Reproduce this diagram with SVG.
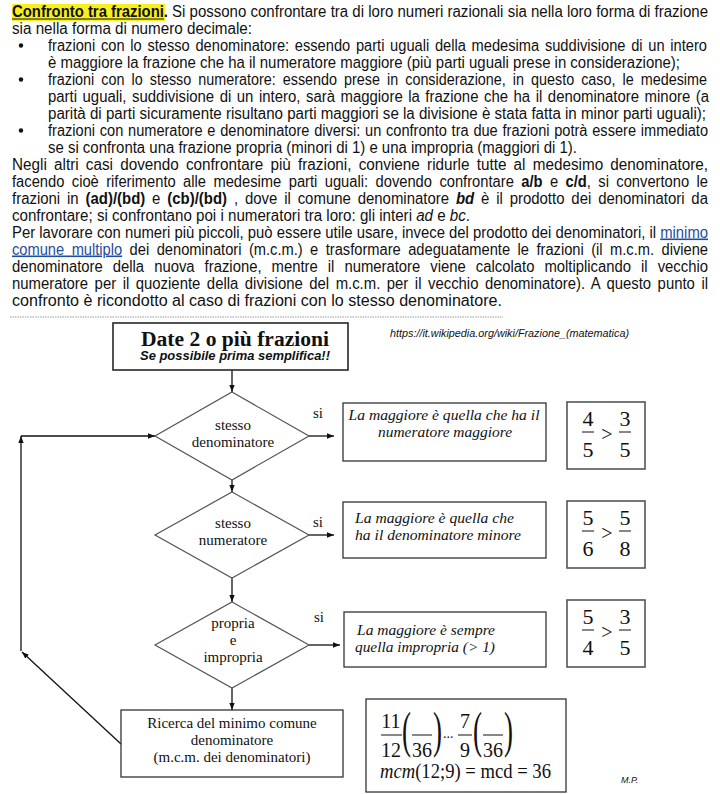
<svg xmlns="http://www.w3.org/2000/svg" width="720" height="794" viewBox="0 0 720 794">
<defs>
<marker id="ah" viewBox="0 0 10 10" refX="10" refY="5" markerWidth="7" markerHeight="7" orient="auto" markerUnits="userSpaceOnUse"><path d="M0,1.2 L10,5 L0,8.8 z" fill="#111"/></marker>
<style>
.p{font-family:"Liberation Sans",Arial,sans-serif;font-size:16px;fill:#111}
.b{font-weight:bold}
.i{font-style:italic}
.lnk{fill:#1f4e9c;text-decoration:underline}
.t{font-family:"Liberation Serif","Times New Roman",serif;fill:#111}
.ti{font-family:"Liberation Serif","Times New Roman",serif;font-style:italic;fill:#111}
.box{fill:#fff;stroke:#333;stroke-width:1.3}
.sbox{fill:#fff;stroke:#333;stroke-width:1.7}
.fbox{fill:#fff;stroke:#555;stroke-width:1.6}
.dia{fill:#fff;stroke:#555;stroke-width:1.2}
.ln{fill:none;stroke:#111;stroke-width:1.3}
.bar{stroke:#111;stroke-width:1}
.bul{fill:#111}
</style>
</defs>
<rect width="720" height="794" fill="#fff"/>

<g id="text-block">
<rect x="12" y="4" width="153" height="17" fill="#f7f01c"/>
<text class="p b" x="12" y="16.5" textLength="156" lengthAdjust="spacingAndGlyphs">Confronto tra frazioni.</text>
<line x1="12" y1="19" x2="164" y2="19" stroke="#111" stroke-width="1.2"/>
<text class="p" x="172" y="16.5" textLength="536" lengthAdjust="spacingAndGlyphs">Si possono confrontare tra di loro numeri razionali sia nella loro forma di frazione</text>
<text class="p" x="12" y="33.5" textLength="240" lengthAdjust="spacingAndGlyphs">sia nella forma di numero decimale:</text>
<circle class="bul" cx="21" cy="45.5" r="2.2"/>
<text class="p" x="48" y="50.5" textLength="659" lengthAdjust="spacingAndGlyphs" style="word-spacing:1.8px">frazioni con lo stesso denominatore: essendo parti uguali della medesima suddivisione di un intero</text>
<text class="p" x="48" y="67.5" textLength="632" lengthAdjust="spacingAndGlyphs">è maggiore la frazione che ha il numeratore maggiore (più parti uguali prese in considerazione);</text>
<circle class="bul" cx="21" cy="79.5" r="2.2"/>
<text class="p" x="48" y="84.5" textLength="659" lengthAdjust="spacingAndGlyphs" style="word-spacing:3.4px">frazioni con lo stesso numeratore: essendo prese in considerazione, in questo caso, le medesime</text>
<text class="p" x="48" y="101.5" textLength="661" lengthAdjust="spacingAndGlyphs" style="word-spacing:1.5px">parti uguali, suddivisione di un intero, sarà maggiore la frazione che ha il denominatore minore (a</text>
<text class="p" x="48" y="118.5" textLength="658" lengthAdjust="spacingAndGlyphs">parità di parti sicuramente risultano parti maggiori se la divisione è stata fatta in minor parti uguali);</text>
<circle class="bul" cx="21" cy="130.5" r="2.2"/>
<text class="p" x="48" y="135.5" textLength="660" lengthAdjust="spacingAndGlyphs" style="word-spacing:0.8px">frazioni con numeratore e denominatore diversi: un confronto tra due frazioni potrà essere immediato</text>
<text class="p" x="48" y="152.5" textLength="529" lengthAdjust="spacingAndGlyphs">se si confronta una frazione propria (minori di 1) e una impropria (maggiori di 1).</text>
<text class="p" x="12" y="169.5" textLength="696" lengthAdjust="spacingAndGlyphs" style="word-spacing:3.1px">Negli altri casi dovendo confrontare più frazioni, conviene ridurle tutte al medesimo denominatore,</text>
<text class="p" x="12" y="186.5" textLength="696" lengthAdjust="spacingAndGlyphs" style="word-spacing:3.6px">facendo cioè riferimento alle medesime parti uguali: dovendo confrontare <tspan class="b">a/b</tspan> e <tspan class="b">c/d</tspan>, si convertono le</text>
<text class="p" x="12" y="203.5" textLength="696" lengthAdjust="spacingAndGlyphs" style="word-spacing:2.9px">frazioni in <tspan class="b">(ad)/(bd)</tspan> e <tspan class="b">(cb)/(bd)</tspan> , dove il comune denominatore <tspan class="b i">bd</tspan> è il prodotto dei denominatori da</text>
<text class="p" x="12" y="220.5" textLength="458" lengthAdjust="spacingAndGlyphs">confrontare; si confrontano poi i numeratori tra loro: gli interi <tspan class="i">ad</tspan> e <tspan class="i">bc</tspan>.</text>
<text class="p" x="12" y="237.5" textLength="696" lengthAdjust="spacingAndGlyphs">Per lavorare con numeri più piccoli, può essere utile usare, invece del prodotto dei denominatori, il <tspan class="lnk">minimo</tspan></text>
<text class="p" x="12" y="254.5" textLength="696" lengthAdjust="spacingAndGlyphs" style="word-spacing:3.7px"><tspan class="lnk">comune multiplo</tspan> dei denominatori (m.c.m.) e trasformare adeguatamente le frazioni (il m.c.m. diviene</text>
<text class="p" x="12" y="271.5" textLength="696" lengthAdjust="spacingAndGlyphs" style="word-spacing:6.4px">denominatore della nuova frazione, mentre il numeratore viene calcolato moltiplicando il vecchio</text>
<text class="p" x="12" y="288.5" textLength="696" lengthAdjust="spacingAndGlyphs" style="word-spacing:2.6px">numeratore per il quoziente della divisione del m.c.m. per il vecchio denominatore). A questo punto il</text>
<text class="p" x="12" y="305.5" textLength="490" lengthAdjust="spacingAndGlyphs">confronto è ricondotto al caso di frazioni con lo stesso denominatore.</text>
<line x1="10" y1="317" x2="503" y2="317" stroke="#999" stroke-width="1" stroke-dasharray="1.5,1"/>
</g>

<text x="390" y="336.5" font-family="Liberation Sans, Arial, sans-serif" font-size="10.5" font-style="italic" fill="#111" textLength="239" lengthAdjust="spacingAndGlyphs">https://it.wikipedia.org/wiki/Frazione_(matematica)</text>

<g id="connectors">
<line class="ln" x1="232" y1="370" x2="232" y2="392" marker-end="url(#ah)"/>
<line class="ln" x1="232" y1="480" x2="232" y2="492" marker-end="url(#ah)"/>
<line class="ln" x1="232" y1="578" x2="232" y2="602" marker-end="url(#ah)"/>
<line class="ln" x1="232" y1="688" x2="232" y2="710" marker-end="url(#ah)"/>
<line class="ln" x1="309" y1="436" x2="334" y2="436" marker-end="url(#ah)"/>
<line class="ln" x1="309" y1="535" x2="334" y2="535" marker-end="url(#ah)"/>
<line class="ln" x1="309" y1="645" x2="340" y2="645" marker-end="url(#ah)"/>
<line class="ln" x1="121" y1="744" x2="22" y2="652" marker-end="url(#ah)"/>
<line class="ln" x1="21" y1="651" x2="21" y2="436" marker-end="url(#ah)"/>
<line class="ln" x1="21" y1="436" x2="155" y2="436" marker-end="url(#ah)"/>
<text class="t" x="313" y="418" font-size="15">si</text>
<text class="t" x="313" y="527" font-size="15">si</text>
<text class="t" x="314" y="622" font-size="15">si</text>
</g>

<g id="n-start">
<rect class="sbox" x="113" y="323" width="235" height="47"/>
<text class="t" x="235" y="345.5" font-size="20" font-weight="bold" text-anchor="middle" textLength="188" lengthAdjust="spacingAndGlyphs">Date 2 o più frazioni</text>
<text x="235" y="360" font-family="Liberation Sans, Arial, sans-serif" font-size="12.5" font-weight="bold" font-style="italic" fill="#111" text-anchor="middle" textLength="190" lengthAdjust="spacingAndGlyphs">Se possibile prima semplifica!!</text>
</g>

<g id="n-d1">
<polygon class="dia" points="232,392 309,436 232,480 155,436"/>
<text class="t" x="233" y="430" font-size="15" text-anchor="middle">stesso</text>
<text class="t" x="233" y="447" font-size="15" text-anchor="middle">denominatore</text>
</g>
<g id="n-d2">
<polygon class="dia" points="232,492 309,535 232,578 155,535"/>
<text class="t" x="233" y="528" font-size="15" text-anchor="middle">stesso</text>
<text class="t" x="233" y="545" font-size="15" text-anchor="middle">numeratore</text>
</g>
<g id="n-d3">
<polygon class="dia" points="232,602 309,645 232,688 155,645"/>
<text class="t" x="233" y="628" font-size="15" text-anchor="middle">propria</text>
<text class="t" x="233" y="645" font-size="15" text-anchor="middle">e</text>
<text class="t" x="233" y="662" font-size="15" text-anchor="middle">impropria</text>
</g>

<g id="n-r1">
<rect class="box" x="343" y="403" width="203" height="58"/>
<text class="ti" x="444" y="420" font-size="15.5" text-anchor="middle" textLength="191" lengthAdjust="spacingAndGlyphs">La maggiore è quella che ha il</text>
<text class="ti" x="445" y="437" font-size="15.5" text-anchor="middle" textLength="134" lengthAdjust="spacingAndGlyphs">numeratore maggiore</text>
</g>
<g id="n-r2">
<rect class="box" x="343" y="502" width="203" height="56"/>
<text class="ti" x="355" y="523" font-size="15.5" textLength="159" lengthAdjust="spacingAndGlyphs">La maggiore è quella che</text>
<text class="ti" x="355" y="540" font-size="15.5" textLength="166" lengthAdjust="spacingAndGlyphs">ha il denominatore minore</text>
</g>
<g id="n-r3">
<rect class="box" x="344" y="612" width="202" height="55"/>
<text class="ti" x="357" y="635" font-size="15.5" textLength="138" lengthAdjust="spacingAndGlyphs">La maggiore è sempre</text>
<text class="ti" x="355" y="652" font-size="15.5" textLength="140" lengthAdjust="spacingAndGlyphs">quella impropria (&gt; 1)</text>
</g>

<g id="n-f1">
<rect class="fbox" x="567" y="402" width="78" height="67"/>
<text class="t" x="588" y="426" font-size="22" text-anchor="middle">4</text>
<line class="bar" x1="582" y1="432" x2="594" y2="432"/>
<text class="t" x="588" y="457" font-size="22" text-anchor="middle">5</text>
<text class="t" x="607" y="441" font-size="20" text-anchor="middle">&gt;</text>
<text class="t" x="625" y="426" font-size="22" text-anchor="middle">3</text>
<line class="bar" x1="619" y1="432" x2="631" y2="432"/>
<text class="t" x="625" y="457" font-size="22" text-anchor="middle">5</text>
</g>
<g id="n-f2">
<rect class="fbox" x="567" y="501" width="78" height="67"/>
<text class="t" x="588" y="525" font-size="22" text-anchor="middle">5</text>
<line class="bar" x1="582" y1="531" x2="594" y2="531"/>
<text class="t" x="588" y="556" font-size="22" text-anchor="middle">6</text>
<text class="t" x="607" y="540" font-size="20" text-anchor="middle">&gt;</text>
<text class="t" x="625" y="525" font-size="22" text-anchor="middle">5</text>
<line class="bar" x1="619" y1="531" x2="631" y2="531"/>
<text class="t" x="625" y="556" font-size="22" text-anchor="middle">8</text>
</g>
<g id="n-f3">
<rect class="fbox" x="567" y="600" width="78" height="67"/>
<text class="t" x="588" y="624" font-size="22" text-anchor="middle">5</text>
<line class="bar" x1="582" y1="630" x2="594" y2="630"/>
<text class="t" x="588" y="655" font-size="22" text-anchor="middle">4</text>
<text class="t" x="607" y="639" font-size="20" text-anchor="middle">&gt;</text>
<text class="t" x="625" y="624" font-size="22" text-anchor="middle">3</text>
<line class="bar" x1="619" y1="630" x2="631" y2="630"/>
<text class="t" x="625" y="655" font-size="22" text-anchor="middle">5</text>
</g>

<g id="n-lcm">
<rect class="box" x="121" y="710" width="222" height="67"/>
<text class="t" x="232" y="728" font-size="15" text-anchor="middle">Ricerca del minimo comune</text>
<text class="t" x="232" y="745" font-size="15" text-anchor="middle">denominatore</text>
<text class="t" x="232" y="762" font-size="15" text-anchor="middle">(m.c.m. dei denominatori)</text>
</g>

<g id="n-lcm-example">
<rect class="box" x="366" y="699" width="200" height="93"/>
<text class="t" x="391" y="728" font-size="20" text-anchor="middle">11</text>
<line class="bar" x1="381" y1="735" x2="402" y2="735"/>
<text class="t" x="391" y="757" font-size="20" text-anchor="middle">12</text>
<text class="t" font-size="30" transform="translate(402,746.5) scale(0.9,1.69)">(</text>
<line class="bar" x1="412" y1="735" x2="432" y2="735"/>
<text class="t" x="422" y="757" font-size="20" text-anchor="middle">36</text>
<text class="t" font-size="30" transform="translate(433,746.5) scale(0.9,1.69)">)</text>
<text class="t" x="443" y="738" font-size="14">...</text>
<text class="t" x="465" y="728" font-size="20" text-anchor="middle">7</text>
<line class="bar" x1="458" y1="735" x2="472" y2="735"/>
<text class="t" x="465" y="757" font-size="20" text-anchor="middle">9</text>
<text class="t" font-size="30" transform="translate(473,746.5) scale(0.9,1.69)">(</text>
<line class="bar" x1="483" y1="735" x2="503" y2="735"/>
<text class="t" x="493" y="757" font-size="20" text-anchor="middle">36</text>
<text class="t" font-size="30" transform="translate(504,746.5) scale(0.9,1.69)">)</text>
<text class="t" x="380" y="778" font-size="20" textLength="171" lengthAdjust="spacingAndGlyphs"><tspan font-style="italic">mcm</tspan>(12;9) = mcd = 36</text>
</g>

<text x="621" y="783" font-family="Liberation Sans, Arial, sans-serif" font-size="9" font-style="italic" fill="#111">M.P.</text>
</svg>
